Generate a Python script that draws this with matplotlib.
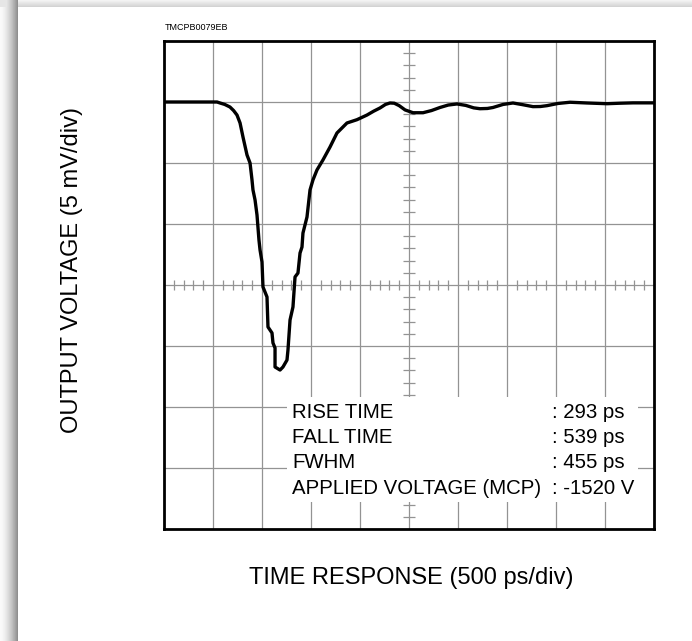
import numpy as np
import matplotlib
matplotlib.use("Agg")
import matplotlib.pyplot as plt
from matplotlib.patches import Rectangle

plt.rcParams['font.family'] = ['Liberation Sans', 'DejaVu Sans']

# time (ps) and output voltage (mV)
time_ps = [0, 541, 571, 620, 673, 710, 745, 776, 806, 847, 878, 898, 908, 929,
           949, 969, 980, 1000, 1010, 1051, 1061, 1102, 1112, 1133, 1133, 1184,
           1214, 1255, 1265, 1286, 1316, 1337, 1367, 1388, 1408, 1418, 1459,
           1490, 1520, 1561, 1622, 1694, 1765, 1867, 1969, 2071, 2140, 2204,
           2260, 2306, 2350, 2400, 2460, 2541, 2643, 2730, 2816, 2900, 2990,
           3080, 3160, 3224, 3300, 3357, 3460, 3561, 3660, 3765, 3840, 3908,
           4020, 4143, 4230, 4316, 4520, 4650, 4786, 5000]
volt_mv = [15.0, 15.0, 14.92, 14.8, 14.59, 14.3, 13.93, 13.28, 12.13, 10.66,
           10.0, 8.61, 7.79, 6.97, 5.74, 3.69, 2.87, 1.89, -0.16, -0.98, -3.44,
           -3.93, -4.75, -5.16, -6.72, -6.97, -6.72, -6.15, -5.33, -2.87, -1.80,
           0.66, 0.98, 2.62, 3.11, 4.26, 5.57, 7.79, 8.61, 9.43, 10.25, 11.31,
           12.46, 13.28, 13.55, 13.93, 14.25, 14.51, 14.80, 14.92, 14.90, 14.70,
           14.35, 14.12, 14.12, 14.30, 14.55, 14.75, 14.84, 14.72, 14.52, 14.45,
           14.47, 14.55, 14.80, 14.92, 14.78, 14.62, 14.63, 14.70, 14.88, 14.98,
           14.95, 14.92, 14.86, 14.90, 14.93, 14.93]

info_labels = ["RISE TIME", "FALL TIME", "FWHM", "APPLIED VOLTAGE (MCP)"]
info_values = [": 293 ps", ": 539 ps", ": 455 ps", ": -1520 V"]

W, H = 692, 641
fig = plt.figure(figsize=(W / 100, H / 100), dpi=100)

# card shadow on the left / top edges
bg = fig.add_axes([0, 0, 1, 1], zorder=-5)
img = np.ones((H, W))
xs = np.arange(18)
left = 0.98 - 0.42 * (xs / 17.0) ** 1.6
img[:, :18] = left[None, :]
ys = np.arange(7)
top = 0.95 - 0.12 * (ys / 6.0)
img[:7, 18:] = top[:, None]
img[:7, :18] = np.minimum(img[:7, :18], 0.9)
bg.imshow(img, cmap='gray', vmin=0, vmax=1, aspect='auto', interpolation='nearest')
bg.axis('off')

ax = fig.add_axes([164 / W, (H - 529) / H, 490 / W, 488 / H])
ax.set_xlim(0, 5000)
ax.set_ylim(-20, 20)

grid_c = '#939393'
for gx in np.arange(500, 5000, 500):
    ax.axvline(gx, color=grid_c, lw=0.9, zorder=1)
for gy in np.arange(-15, 20, 5):
    ax.axhline(gy, color=grid_c, lw=0.9, zorder=1)

# minor ticks on the centre lines
tx = [t for t in np.arange(100, 5000, 100) if t % 500 != 0]
ax.vlines(tx, -0.37, 0.37, color=grid_c, lw=0.9, zorder=1)
ty = [v for v in np.arange(-19, 20, 1) if v % 5 != 0]
ax.hlines(ty, 2500 - 60, 2500 + 60, color=grid_c, lw=0.9, zorder=1)

# white block behind the readout text
ax.add_patch(Rectangle((1255, -17.79), 4837 - 1255, 17.79 - 9.18,
                       facecolor='white', edgecolor='none', zorder=2))

ax.plot(time_ps, volt_mv, color='black', lw=2.4, solid_joinstyle='round',
        solid_capstyle='round', zorder=3)

rows = [-10.49, -12.54, -14.59, -16.64]
for lab, val, yy in zip(info_labels, info_values, rows):
    ax.text(1306, yy, lab, fontsize=14.7, va='center', ha='left', zorder=4)
    ax.text(3959, yy, val, fontsize=14.7, va='center', ha='left', zorder=4)

ax.set_xticks([])
ax.set_yticks([])
for sp in ax.spines.values():
    sp.set_linewidth(2)
    sp.set_color('black')

fig.text(165 / W, 1 - 28 / H, "TMCPB0079EB", fontsize=6.5, va='center', ha='left')
fig.text(72 / W, 1 - 270 / H, "OUTPUT VOLTAGE (5 mV/div)", fontsize=17,
         rotation=90, va='center', ha='center')
fig.text(411 / W, 1 - 578 / H, "TIME RESPONSE (500 ps/div)", fontsize=17,
         va='center', ha='center')

fig.savefig("out.png", dpi=100)
